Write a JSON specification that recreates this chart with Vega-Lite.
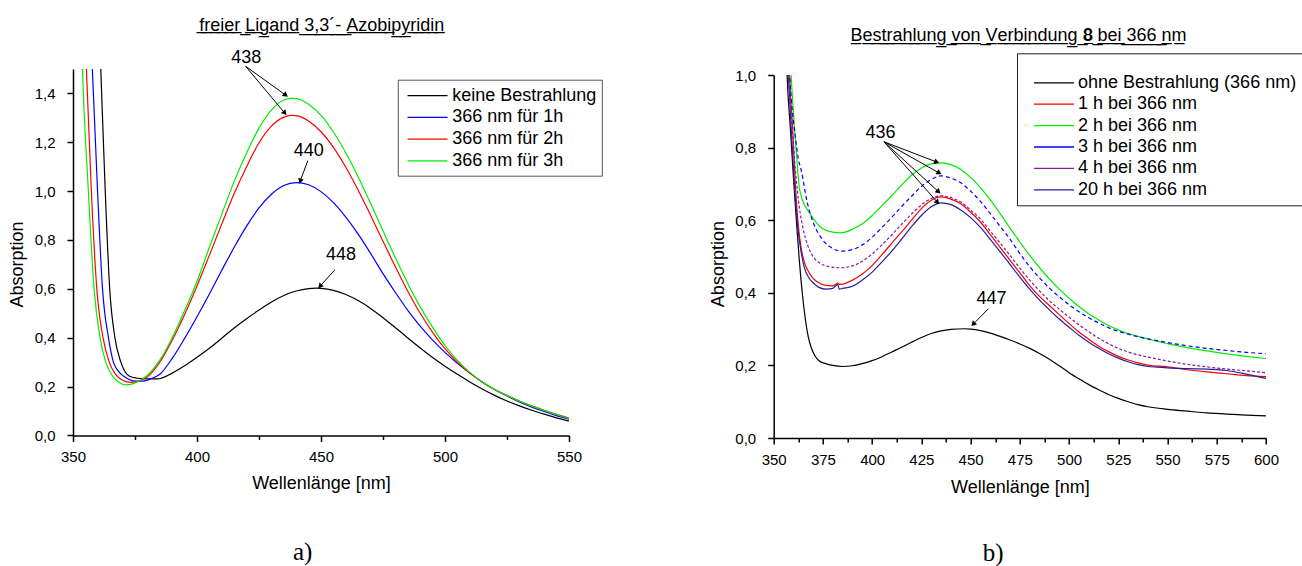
{
"$schema": "https://vega.github.io/schema/vega-lite/v6.json",
"background": "white",
"padding": {"left": 8, "top": 16, "right": 0, "bottom": 0},
"config": {
  "view": {"stroke": null},
  "font": "Liberation Sans",
  "axis": {"labelFont": "Liberation Sans", "labelFontSize": 15, "labelColor": "#000", "titleFont": "Liberation Sans", "titleFontSize": 18, "titleFontWeight": "normal", "titleColor": "#000", "domainColor": "#000", "tickColor": "#000", "domainWidth": 1.5, "tickWidth": 1.5, "grid": false, "labelFlush": false, "labelOverlap": false},
  "legend": {"labelFont": "Liberation Sans", "labelFontSize": 18, "labelColor": "#000", "labelLimit": 400, "fillColor": "white", "symbolType": "M-2,0H2", "symbolSize": 400, "symbolStrokeWidth": 1.3}
},
"datasets": {
  "left": [
    {"series":"keine Bestrahlung","wl":358,"A":2.4},{"series":"keine Bestrahlung","wl":361.2,"A":1.5},{"series":"keine Bestrahlung","wl":363,"A":1.0},{"series":"keine Bestrahlung","wl":364.8,"A":0.6},{"series":"keine Bestrahlung","wl":366.9,"A":0.4},{"series":"keine Bestrahlung","wl":369.3,"A":0.3},{"series":"keine Bestrahlung","wl":372.8,"A":0.242},{"series":"keine Bestrahlung","wl":376,"A":0.234},{"series":"keine Bestrahlung","wl":380,"A":0.231},{"series":"keine Bestrahlung","wl":384,"A":0.231},{"series":"keine Bestrahlung","wl":390,"A":0.255},{"series":"keine Bestrahlung","wl":395,"A":0.285},{"series":"keine Bestrahlung","wl":400,"A":0.32},{"series":"keine Bestrahlung","wl":405,"A":0.357},{"series":"keine Bestrahlung","wl":410,"A":0.398},{"series":"keine Bestrahlung","wl":415,"A":0.44},{"series":"keine Bestrahlung","wl":420,"A":0.478},{"series":"keine Bestrahlung","wl":425,"A":0.513},{"series":"keine Bestrahlung","wl":430,"A":0.546},{"series":"keine Bestrahlung","wl":435,"A":0.573},{"series":"keine Bestrahlung","wl":440,"A":0.591},{"series":"keine Bestrahlung","wl":445,"A":0.601},{"series":"keine Bestrahlung","wl":448,"A":0.603},{"series":"keine Bestrahlung","wl":450,"A":0.602},{"series":"keine Bestrahlung","wl":455,"A":0.594},{"series":"keine Bestrahlung","wl":460,"A":0.577},{"series":"keine Bestrahlung","wl":465,"A":0.552},{"series":"keine Bestrahlung","wl":470,"A":0.52},{"series":"keine Bestrahlung","wl":475,"A":0.482},{"series":"keine Bestrahlung","wl":480,"A":0.441},{"series":"keine Bestrahlung","wl":485,"A":0.399},{"series":"keine Bestrahlung","wl":490,"A":0.358},{"series":"keine Bestrahlung","wl":495,"A":0.319},{"series":"keine Bestrahlung","wl":500,"A":0.283},{"series":"keine Bestrahlung","wl":505,"A":0.25},{"series":"keine Bestrahlung","wl":510,"A":0.219},{"series":"keine Bestrahlung","wl":515,"A":0.19},{"series":"keine Bestrahlung","wl":520,"A":0.164},{"series":"keine Bestrahlung","wl":525,"A":0.141},{"series":"keine Bestrahlung","wl":530,"A":0.121},{"series":"keine Bestrahlung","wl":535,"A":0.103},{"series":"keine Bestrahlung","wl":540,"A":0.087},{"series":"keine Bestrahlung","wl":545,"A":0.072},{"series":"keine Bestrahlung","wl":550,"A":0.058},
    {"series":"366 nm für 1h","wl":355,"A":2.4},{"series":"366 nm für 1h","wl":357.8,"A":1.5},{"series":"366 nm für 1h","wl":359.9,"A":1.0},{"series":"366 nm für 1h","wl":361.9,"A":0.6},{"series":"366 nm für 1h","wl":364.3,"A":0.4},{"series":"366 nm für 1h","wl":366.3,"A":0.3},{"series":"366 nm für 1h","wl":369,"A":0.255},{"series":"366 nm für 1h","wl":372,"A":0.232},{"series":"366 nm für 1h","wl":375.3,"A":0.222},{"series":"366 nm für 1h","wl":378,"A":0.222},{"series":"366 nm für 1h","wl":381,"A":0.23},{"series":"366 nm für 1h","wl":385,"A":0.25},{"series":"366 nm für 1h","wl":390,"A":0.315},{"series":"366 nm für 1h","wl":395,"A":0.397},{"series":"366 nm für 1h","wl":400,"A":0.486},{"series":"366 nm für 1h","wl":405,"A":0.579},{"series":"366 nm für 1h","wl":410,"A":0.676},{"series":"366 nm für 1h","wl":415,"A":0.77},{"series":"366 nm für 1h","wl":420,"A":0.857},{"series":"366 nm für 1h","wl":425,"A":0.931},{"series":"366 nm für 1h","wl":430,"A":0.987},{"series":"366 nm für 1h","wl":435,"A":1.023},{"series":"366 nm für 1h","wl":440,"A":1.035},{"series":"366 nm für 1h","wl":445,"A":1.026},{"series":"366 nm für 1h","wl":450,"A":0.998},{"series":"366 nm für 1h","wl":455,"A":0.953},{"series":"366 nm für 1h","wl":460,"A":0.894},{"series":"366 nm für 1h","wl":465,"A":0.824},{"series":"366 nm für 1h","wl":470,"A":0.745},{"series":"366 nm für 1h","wl":475,"A":0.662},{"series":"366 nm für 1h","wl":480,"A":0.585},{"series":"366 nm für 1h","wl":485,"A":0.512},{"series":"366 nm für 1h","wl":490,"A":0.447},{"series":"366 nm für 1h","wl":495,"A":0.39},{"series":"366 nm für 1h","wl":500,"A":0.34},{"series":"366 nm für 1h","wl":505,"A":0.295},{"series":"366 nm für 1h","wl":510,"A":0.255},{"series":"366 nm für 1h","wl":515,"A":0.219},{"series":"366 nm für 1h","wl":520,"A":0.188},{"series":"366 nm für 1h","wl":525,"A":0.161},{"series":"366 nm für 1h","wl":530,"A":0.137},{"series":"366 nm für 1h","wl":535,"A":0.116},{"series":"366 nm für 1h","wl":540,"A":0.098},{"series":"366 nm für 1h","wl":545,"A":0.081},{"series":"366 nm für 1h","wl":550,"A":0.066},
    {"series":"366 nm für 2h","wl":353,"A":2.4},{"series":"366 nm für 2h","wl":355.4,"A":1.5},{"series":"366 nm für 2h","wl":357.4,"A":1.0},{"series":"366 nm für 2h","wl":359.6,"A":0.6},{"series":"366 nm für 2h","wl":362.1,"A":0.4},{"series":"366 nm für 2h","wl":364.6,"A":0.3},{"series":"366 nm für 2h","wl":367,"A":0.252},{"series":"366 nm für 2h","wl":370,"A":0.226},{"series":"366 nm für 2h","wl":373.3,"A":0.217},{"series":"366 nm für 2h","wl":376,"A":0.221},{"series":"366 nm für 2h","wl":380,"A":0.24},{"series":"366 nm für 2h","wl":385,"A":0.3},{"series":"366 nm für 2h","wl":390,"A":0.39},{"series":"366 nm für 2h","wl":395,"A":0.495},{"series":"366 nm für 2h","wl":400,"A":0.612},{"series":"366 nm für 2h","wl":405,"A":0.738},{"series":"366 nm für 2h","wl":410,"A":0.866},{"series":"366 nm für 2h","wl":415,"A":0.99},{"series":"366 nm für 2h","wl":420,"A":1.1},{"series":"366 nm für 2h","wl":425,"A":1.198},{"series":"366 nm für 2h","wl":430,"A":1.266},{"series":"366 nm für 2h","wl":435,"A":1.303},{"series":"366 nm für 2h","wl":438,"A":1.31},{"series":"366 nm für 2h","wl":440,"A":1.309},{"series":"366 nm für 2h","wl":445,"A":1.287},{"series":"366 nm für 2h","wl":450,"A":1.243},{"series":"366 nm für 2h","wl":455,"A":1.179},{"series":"366 nm für 2h","wl":460,"A":1.098},{"series":"366 nm für 2h","wl":465,"A":1.004},{"series":"366 nm für 2h","wl":470,"A":0.901},{"series":"366 nm für 2h","wl":475,"A":0.795},{"series":"366 nm für 2h","wl":480,"A":0.69},{"series":"366 nm für 2h","wl":485,"A":0.59},{"series":"366 nm für 2h","wl":490,"A":0.5},{"series":"366 nm für 2h","wl":495,"A":0.422},{"series":"366 nm für 2h","wl":500,"A":0.355},{"series":"366 nm für 2h","wl":505,"A":0.3},{"series":"366 nm für 2h","wl":510,"A":0.255},{"series":"366 nm für 2h","wl":515,"A":0.218},{"series":"366 nm für 2h","wl":520,"A":0.188},{"series":"366 nm für 2h","wl":525,"A":0.164},{"series":"366 nm für 2h","wl":530,"A":0.141},{"series":"366 nm für 2h","wl":535,"A":0.121},{"series":"366 nm für 2h","wl":540,"A":0.103},{"series":"366 nm für 2h","wl":545,"A":0.086},{"series":"366 nm für 2h","wl":550,"A":0.071},
    {"series":"366 nm für 3h","wl":351.5,"A":2.4},{"series":"366 nm für 3h","wl":353.8,"A":1.5},{"series":"366 nm für 3h","wl":356.2,"A":1.0},{"series":"366 nm für 3h","wl":358.5,"A":0.6},{"series":"366 nm für 3h","wl":360.9,"A":0.4},{"series":"366 nm für 3h","wl":363.2,"A":0.3},{"series":"366 nm für 3h","wl":366,"A":0.243},{"series":"366 nm für 3h","wl":368.5,"A":0.218},{"series":"366 nm für 3h","wl":371.3,"A":0.207},{"series":"366 nm für 3h","wl":374,"A":0.211},{"series":"366 nm für 3h","wl":377,"A":0.225},{"series":"366 nm für 3h","wl":380,"A":0.246},{"series":"366 nm für 3h","wl":385,"A":0.308},{"series":"366 nm für 3h","wl":390,"A":0.4},{"series":"366 nm für 3h","wl":395,"A":0.51},{"series":"366 nm für 3h","wl":400,"A":0.63},{"series":"366 nm für 3h","wl":405,"A":0.77},{"series":"366 nm für 3h","wl":410,"A":0.906},{"series":"366 nm für 3h","wl":415,"A":1.04},{"series":"366 nm für 3h","wl":420,"A":1.156},{"series":"366 nm für 3h","wl":425,"A":1.258},{"series":"366 nm für 3h","wl":430,"A":1.332},{"series":"366 nm für 3h","wl":435,"A":1.373},{"series":"366 nm für 3h","wl":438,"A":1.38},{"series":"366 nm für 3h","wl":440,"A":1.379},{"series":"366 nm für 3h","wl":445,"A":1.356},{"series":"366 nm für 3h","wl":450,"A":1.31},{"series":"366 nm für 3h","wl":455,"A":1.242},{"series":"366 nm für 3h","wl":460,"A":1.157},{"series":"366 nm für 3h","wl":465,"A":1.058},{"series":"366 nm für 3h","wl":470,"A":0.95},{"series":"366 nm für 3h","wl":475,"A":0.838},{"series":"366 nm für 3h","wl":480,"A":0.727},{"series":"366 nm für 3h","wl":485,"A":0.622},{"series":"366 nm für 3h","wl":490,"A":0.526},{"series":"366 nm für 3h","wl":495,"A":0.442},{"series":"366 nm für 3h","wl":500,"A":0.368},{"series":"366 nm für 3h","wl":505,"A":0.307},{"series":"366 nm für 3h","wl":510,"A":0.258},{"series":"366 nm für 3h","wl":515,"A":0.219},{"series":"366 nm für 3h","wl":520,"A":0.188},{"series":"366 nm für 3h","wl":525,"A":0.163},{"series":"366 nm für 3h","wl":530,"A":0.14},{"series":"366 nm für 3h","wl":535,"A":0.12},{"series":"366 nm für 3h","wl":540,"A":0.102},{"series":"366 nm für 3h","wl":545,"A":0.085},{"series":"366 nm für 3h","wl":550,"A":0.068}
  ],
  "annL": [{"label":"438","wl":419.9,"A":1.545},{"label":"440","wl":445.1,"A":1.163},{"label":"448","wl":458.1,"A":0.74}],
  "arrL": [{"wl":419.6,"A":1.511,"wl2":435.5,"A2":1.395,"angle":126},{"wl":419.6,"A":1.511,"wl2":435.2,"A2":1.322,"angle":140},{"wl":444.7,"A":1.125,"wl2":441.7,"A2":1.044,"angle":200},{"wl":455.6,"A":0.678,"wl2":449.8,"A2":0.613,"angle":222}],
  "right": [
    {"series":"ohne Bestrahlung (366 nm)","wl":355.5,"A":1.25},{"series":"ohne Bestrahlung (366 nm)","wl":356.8,"A":1.0},{"series":"ohne Bestrahlung (366 nm)","wl":358.5,"A":0.85},{"series":"ohne Bestrahlung (366 nm)","wl":360,"A":0.72},{"series":"ohne Bestrahlung (366 nm)","wl":361.5,"A":0.6},{"series":"ohne Bestrahlung (366 nm)","wl":363,"A":0.49},{"series":"ohne Bestrahlung (366 nm)","wl":364.5,"A":0.4},{"series":"ohne Bestrahlung (366 nm)","wl":366,"A":0.33},{"series":"ohne Bestrahlung (366 nm)","wl":367.5,"A":0.28},{"series":"ohne Bestrahlung (366 nm)","wl":369,"A":0.25},{"series":"ohne Bestrahlung (366 nm)","wl":371,"A":0.226},{"series":"ohne Bestrahlung (366 nm)","wl":373,"A":0.213},{"series":"ohne Bestrahlung (366 nm)","wl":376.4,"A":0.205},{"series":"ohne Bestrahlung (366 nm)","wl":380,"A":0.2},{"series":"ohne Bestrahlung (366 nm)","wl":385,"A":0.197},{"series":"ohne Bestrahlung (366 nm)","wl":390,"A":0.199},{"series":"ohne Bestrahlung (366 nm)","wl":395,"A":0.205},{"series":"ohne Bestrahlung (366 nm)","wl":400,"A":0.213},{"series":"ohne Bestrahlung (366 nm)","wl":405,"A":0.224},{"series":"ohne Bestrahlung (366 nm)","wl":410,"A":0.237},{"series":"ohne Bestrahlung (366 nm)","wl":415,"A":0.25},{"series":"ohne Bestrahlung (366 nm)","wl":420,"A":0.264},{"series":"ohne Bestrahlung (366 nm)","wl":425,"A":0.277},{"series":"ohne Bestrahlung (366 nm)","wl":430,"A":0.288},{"series":"ohne Bestrahlung (366 nm)","wl":435,"A":0.295},{"series":"ohne Bestrahlung (366 nm)","wl":440,"A":0.299},{"series":"ohne Bestrahlung (366 nm)","wl":447,"A":0.301},{"series":"ohne Bestrahlung (366 nm)","wl":450,"A":0.3},{"series":"ohne Bestrahlung (366 nm)","wl":455,"A":0.296},{"series":"ohne Bestrahlung (366 nm)","wl":460,"A":0.289},{"series":"ohne Bestrahlung (366 nm)","wl":465,"A":0.28},{"series":"ohne Bestrahlung (366 nm)","wl":470,"A":0.27},{"series":"ohne Bestrahlung (366 nm)","wl":475,"A":0.259},{"series":"ohne Bestrahlung (366 nm)","wl":480,"A":0.247},{"series":"ohne Bestrahlung (366 nm)","wl":485,"A":0.233},{"series":"ohne Bestrahlung (366 nm)","wl":490,"A":0.217},{"series":"ohne Bestrahlung (366 nm)","wl":495,"A":0.199},{"series":"ohne Bestrahlung (366 nm)","wl":500,"A":0.18},{"series":"ohne Bestrahlung (366 nm)","wl":505,"A":0.163},{"series":"ohne Bestrahlung (366 nm)","wl":510,"A":0.147},{"series":"ohne Bestrahlung (366 nm)","wl":515,"A":0.133},{"series":"ohne Bestrahlung (366 nm)","wl":520,"A":0.12},{"series":"ohne Bestrahlung (366 nm)","wl":525,"A":0.109},{"series":"ohne Bestrahlung (366 nm)","wl":530,"A":0.1},{"series":"ohne Bestrahlung (366 nm)","wl":535,"A":0.092},{"series":"ohne Bestrahlung (366 nm)","wl":540,"A":0.086},{"series":"ohne Bestrahlung (366 nm)","wl":550,"A":0.079},{"series":"ohne Bestrahlung (366 nm)","wl":560,"A":0.074},{"series":"ohne Bestrahlung (366 nm)","wl":570,"A":0.069},{"series":"ohne Bestrahlung (366 nm)","wl":580,"A":0.066},{"series":"ohne Bestrahlung (366 nm)","wl":590,"A":0.063},{"series":"ohne Bestrahlung (366 nm)","wl":600,"A":0.061},
    {"series":"1 h bei 366 nm","wl":356.5,"A":1.2},{"series":"1 h bei 366 nm","wl":358.5,"A":0.95},{"series":"1 h bei 366 nm","wl":359.6,"A":0.857},{"series":"1 h bei 366 nm","wl":361.3,"A":0.673},{"series":"1 h bei 366 nm","wl":362.6,"A":0.58},{"series":"1 h bei 366 nm","wl":363.9,"A":0.526},{"series":"1 h bei 366 nm","wl":365.5,"A":0.485},{"series":"1 h bei 366 nm","wl":367.3,"A":0.462},{"series":"1 h bei 366 nm","wl":370,"A":0.44},{"series":"1 h bei 366 nm","wl":372.3,"A":0.43},{"series":"1 h bei 366 nm","wl":376,"A":0.421},{"series":"1 h bei 366 nm","wl":380,"A":0.419},{"series":"1 h bei 366 nm","wl":382.5,"A":0.427},{"series":"1 h bei 366 nm","wl":383.5,"A":0.423},{"series":"1 h bei 366 nm","wl":385,"A":0.424},{"series":"1 h bei 366 nm","wl":390,"A":0.435},{"series":"1 h bei 366 nm","wl":395,"A":0.452},{"series":"1 h bei 366 nm","wl":400,"A":0.475},{"series":"1 h bei 366 nm","wl":405,"A":0.505},{"series":"1 h bei 366 nm","wl":410,"A":0.537},{"series":"1 h bei 366 nm","wl":415,"A":0.568},{"series":"1 h bei 366 nm","wl":420,"A":0.6},{"series":"1 h bei 366 nm","wl":425,"A":0.632},{"series":"1 h bei 366 nm","wl":430,"A":0.655},{"series":"1 h bei 366 nm","wl":435,"A":0.664},{"series":"1 h bei 366 nm","wl":440,"A":0.658},{"series":"1 h bei 366 nm","wl":445,"A":0.645},{"series":"1 h bei 366 nm","wl":450,"A":0.622},{"series":"1 h bei 366 nm","wl":455,"A":0.595},{"series":"1 h bei 366 nm","wl":460,"A":0.56},{"series":"1 h bei 366 nm","wl":465,"A":0.525},{"series":"1 h bei 366 nm","wl":470,"A":0.49},{"series":"1 h bei 366 nm","wl":475,"A":0.455},{"series":"1 h bei 366 nm","wl":480,"A":0.42},{"series":"1 h bei 366 nm","wl":485,"A":0.39},{"series":"1 h bei 366 nm","wl":490,"A":0.365},{"series":"1 h bei 366 nm","wl":495,"A":0.34},{"series":"1 h bei 366 nm","wl":500,"A":0.315},{"series":"1 h bei 366 nm","wl":505,"A":0.292},{"series":"1 h bei 366 nm","wl":510,"A":0.272},{"series":"1 h bei 366 nm","wl":515,"A":0.253},{"series":"1 h bei 366 nm","wl":520,"A":0.238},{"series":"1 h bei 366 nm","wl":525,"A":0.225},{"series":"1 h bei 366 nm","wl":530,"A":0.215},{"series":"1 h bei 366 nm","wl":535,"A":0.207},{"series":"1 h bei 366 nm","wl":540,"A":0.201},{"series":"1 h bei 366 nm","wl":550,"A":0.196},{"series":"1 h bei 366 nm","wl":560,"A":0.188},{"series":"1 h bei 366 nm","wl":570,"A":0.182},{"series":"1 h bei 366 nm","wl":580,"A":0.177},{"series":"1 h bei 366 nm","wl":590,"A":0.172},{"series":"1 h bei 366 nm","wl":600,"A":0.169},
    {"series":"2 h bei 366 nm","wl":356,"A":1.25},{"series":"2 h bei 366 nm","wl":358.8,"A":1.0},{"series":"2 h bei 366 nm","wl":360.5,"A":0.857},{"series":"2 h bei 366 nm","wl":362,"A":0.75},{"series":"2 h bei 366 nm","wl":363,"A":0.69},{"series":"2 h bei 366 nm","wl":365,"A":0.65},{"series":"2 h bei 366 nm","wl":367.3,"A":0.627},{"series":"2 h bei 366 nm","wl":370,"A":0.605},{"series":"2 h bei 366 nm","wl":374,"A":0.58},{"series":"2 h bei 366 nm","wl":380,"A":0.567},{"series":"2 h bei 366 nm","wl":384,"A":0.565},{"series":"2 h bei 366 nm","wl":390,"A":0.575},{"series":"2 h bei 366 nm","wl":395,"A":0.59},{"series":"2 h bei 366 nm","wl":400,"A":0.613},{"series":"2 h bei 366 nm","wl":405,"A":0.64},{"series":"2 h bei 366 nm","wl":410,"A":0.668},{"series":"2 h bei 366 nm","wl":415,"A":0.697},{"series":"2 h bei 366 nm","wl":420,"A":0.724},{"series":"2 h bei 366 nm","wl":425,"A":0.744},{"series":"2 h bei 366 nm","wl":430,"A":0.755},{"series":"2 h bei 366 nm","wl":435,"A":0.758},{"series":"2 h bei 366 nm","wl":440,"A":0.753},{"series":"2 h bei 366 nm","wl":445,"A":0.74},{"series":"2 h bei 366 nm","wl":450,"A":0.718},{"series":"2 h bei 366 nm","wl":455,"A":0.69},{"series":"2 h bei 366 nm","wl":460,"A":0.656},{"series":"2 h bei 366 nm","wl":465,"A":0.618},{"series":"2 h bei 366 nm","wl":470,"A":0.578},{"series":"2 h bei 366 nm","wl":475,"A":0.54},{"series":"2 h bei 366 nm","wl":480,"A":0.503},{"series":"2 h bei 366 nm","wl":485,"A":0.469},{"series":"2 h bei 366 nm","wl":490,"A":0.438},{"series":"2 h bei 366 nm","wl":495,"A":0.41},{"series":"2 h bei 366 nm","wl":500,"A":0.385},{"series":"2 h bei 366 nm","wl":505,"A":0.362},{"series":"2 h bei 366 nm","wl":510,"A":0.342},{"series":"2 h bei 366 nm","wl":515,"A":0.325},{"series":"2 h bei 366 nm","wl":520,"A":0.31},{"series":"2 h bei 366 nm","wl":525,"A":0.298},{"series":"2 h bei 366 nm","wl":530,"A":0.288},{"series":"2 h bei 366 nm","wl":535,"A":0.28},{"series":"2 h bei 366 nm","wl":540,"A":0.273},{"series":"2 h bei 366 nm","wl":545,"A":0.266},{"series":"2 h bei 366 nm","wl":550,"A":0.26},{"series":"2 h bei 366 nm","wl":560,"A":0.249},{"series":"2 h bei 366 nm","wl":570,"A":0.24},{"series":"2 h bei 366 nm","wl":580,"A":0.232},{"series":"2 h bei 366 nm","wl":590,"A":0.225},{"series":"2 h bei 366 nm","wl":600,"A":0.219},
    {"series":"3 h bei 366 nm","wl":355.5,"A":1.3},{"series":"3 h bei 366 nm","wl":357,"A":1.1},{"series":"3 h bei 366 nm","wl":359,"A":0.93},{"series":"3 h bei 366 nm","wl":361,"A":0.83},{"series":"3 h bei 366 nm","wl":362.5,"A":0.77},{"series":"3 h bei 366 nm","wl":364,"A":0.737},{"series":"3 h bei 366 nm","wl":367,"A":0.65},{"series":"3 h bei 366 nm","wl":370,"A":0.595},{"series":"3 h bei 366 nm","wl":375,"A":0.545},{"series":"3 h bei 366 nm","wl":380,"A":0.522},{"series":"3 h bei 366 nm","wl":384,"A":0.515},{"series":"3 h bei 366 nm","wl":390,"A":0.519},{"series":"3 h bei 366 nm","wl":395,"A":0.532},{"series":"3 h bei 366 nm","wl":400,"A":0.553},{"series":"3 h bei 366 nm","wl":405,"A":0.58},{"series":"3 h bei 366 nm","wl":410,"A":0.608},{"series":"3 h bei 366 nm","wl":415,"A":0.638},{"series":"3 h bei 366 nm","wl":420,"A":0.666},{"series":"3 h bei 366 nm","wl":425,"A":0.693},{"series":"3 h bei 366 nm","wl":430,"A":0.712},{"series":"3 h bei 366 nm","wl":435,"A":0.722},{"series":"3 h bei 366 nm","wl":440,"A":0.716},{"series":"3 h bei 366 nm","wl":445,"A":0.703},{"series":"3 h bei 366 nm","wl":450,"A":0.68},{"series":"3 h bei 366 nm","wl":455,"A":0.652},{"series":"3 h bei 366 nm","wl":460,"A":0.618},{"series":"3 h bei 366 nm","wl":465,"A":0.583},{"series":"3 h bei 366 nm","wl":470,"A":0.548},{"series":"3 h bei 366 nm","wl":475,"A":0.508},{"series":"3 h bei 366 nm","wl":480,"A":0.472},{"series":"3 h bei 366 nm","wl":485,"A":0.441},{"series":"3 h bei 366 nm","wl":490,"A":0.413},{"series":"3 h bei 366 nm","wl":495,"A":0.389},{"series":"3 h bei 366 nm","wl":500,"A":0.367},{"series":"3 h bei 366 nm","wl":505,"A":0.348},{"series":"3 h bei 366 nm","wl":510,"A":0.331},{"series":"3 h bei 366 nm","wl":515,"A":0.317},{"series":"3 h bei 366 nm","wl":520,"A":0.304},{"series":"3 h bei 366 nm","wl":525,"A":0.294},{"series":"3 h bei 366 nm","wl":530,"A":0.286},{"series":"3 h bei 366 nm","wl":535,"A":0.279},{"series":"3 h bei 366 nm","wl":540,"A":0.273},{"series":"3 h bei 366 nm","wl":550,"A":0.263},{"series":"3 h bei 366 nm","wl":560,"A":0.254},{"series":"3 h bei 366 nm","wl":570,"A":0.247},{"series":"3 h bei 366 nm","wl":580,"A":0.241},{"series":"3 h bei 366 nm","wl":590,"A":0.236},{"series":"3 h bei 366 nm","wl":600,"A":0.232},
    {"series":"4 h bei 366 nm","wl":355.5,"A":1.3},{"series":"4 h bei 366 nm","wl":357,"A":1.05},{"series":"4 h bei 366 nm","wl":359,"A":0.88},{"series":"4 h bei 366 nm","wl":361,"A":0.74},{"series":"4 h bei 366 nm","wl":363,"A":0.636},{"series":"4 h bei 366 nm","wl":365,"A":0.575},{"series":"4 h bei 366 nm","wl":367.3,"A":0.53},{"series":"4 h bei 366 nm","wl":370,"A":0.5},{"series":"4 h bei 366 nm","wl":374,"A":0.48},{"series":"4 h bei 366 nm","wl":378,"A":0.472},{"series":"4 h bei 366 nm","wl":384,"A":0.469},{"series":"4 h bei 366 nm","wl":390,"A":0.474},{"series":"4 h bei 366 nm","wl":395,"A":0.487},{"series":"4 h bei 366 nm","wl":400,"A":0.507},{"series":"4 h bei 366 nm","wl":405,"A":0.532},{"series":"4 h bei 366 nm","wl":410,"A":0.56},{"series":"4 h bei 366 nm","wl":415,"A":0.589},{"series":"4 h bei 366 nm","wl":420,"A":0.617},{"series":"4 h bei 366 nm","wl":425,"A":0.642},{"series":"4 h bei 366 nm","wl":430,"A":0.66},{"series":"4 h bei 366 nm","wl":435,"A":0.667},{"series":"4 h bei 366 nm","wl":440,"A":0.662},{"series":"4 h bei 366 nm","wl":445,"A":0.65},{"series":"4 h bei 366 nm","wl":450,"A":0.628},{"series":"4 h bei 366 nm","wl":455,"A":0.603},{"series":"4 h bei 366 nm","wl":460,"A":0.57},{"series":"4 h bei 366 nm","wl":465,"A":0.537},{"series":"4 h bei 366 nm","wl":470,"A":0.503},{"series":"4 h bei 366 nm","wl":475,"A":0.468},{"series":"4 h bei 366 nm","wl":480,"A":0.435},{"series":"4 h bei 366 nm","wl":485,"A":0.405},{"series":"4 h bei 366 nm","wl":490,"A":0.378},{"series":"4 h bei 366 nm","wl":495,"A":0.355},{"series":"4 h bei 366 nm","wl":500,"A":0.333},{"series":"4 h bei 366 nm","wl":505,"A":0.312},{"series":"4 h bei 366 nm","wl":510,"A":0.293},{"series":"4 h bei 366 nm","wl":515,"A":0.275},{"series":"4 h bei 366 nm","wl":520,"A":0.26},{"series":"4 h bei 366 nm","wl":525,"A":0.247},{"series":"4 h bei 366 nm","wl":530,"A":0.237},{"series":"4 h bei 366 nm","wl":535,"A":0.229},{"series":"4 h bei 366 nm","wl":540,"A":0.223},{"series":"4 h bei 366 nm","wl":550,"A":0.212},{"series":"4 h bei 366 nm","wl":560,"A":0.203},{"series":"4 h bei 366 nm","wl":570,"A":0.196},{"series":"4 h bei 366 nm","wl":580,"A":0.19},{"series":"4 h bei 366 nm","wl":590,"A":0.185},{"series":"4 h bei 366 nm","wl":600,"A":0.18},
    {"series":"20 h bei 366 nm","wl":356,"A":1.2},{"series":"20 h bei 366 nm","wl":357.5,"A":1.0},{"series":"20 h bei 366 nm","wl":359,"A":0.84},{"series":"20 h bei 366 nm","wl":360.5,"A":0.7},{"series":"20 h bei 366 nm","wl":362.2,"A":0.581},{"series":"20 h bei 366 nm","wl":364,"A":0.51},{"series":"20 h bei 366 nm","wl":365.5,"A":0.471},{"series":"20 h bei 366 nm","wl":368,"A":0.44},{"series":"20 h bei 366 nm","wl":370.6,"A":0.425},{"series":"20 h bei 366 nm","wl":373,"A":0.415},{"series":"20 h bei 366 nm","wl":376.5,"A":0.41},{"series":"20 h bei 366 nm","wl":380,"A":0.412},{"series":"20 h bei 366 nm","wl":382.5,"A":0.423},{"series":"20 h bei 366 nm","wl":383.3,"A":0.41},{"series":"20 h bei 366 nm","wl":385,"A":0.412},{"series":"20 h bei 366 nm","wl":390,"A":0.418},{"series":"20 h bei 366 nm","wl":395,"A":0.435},{"series":"20 h bei 366 nm","wl":400,"A":0.457},{"series":"20 h bei 366 nm","wl":405,"A":0.485},{"series":"20 h bei 366 nm","wl":410,"A":0.515},{"series":"20 h bei 366 nm","wl":415,"A":0.548},{"series":"20 h bei 366 nm","wl":420,"A":0.582},{"series":"20 h bei 366 nm","wl":425,"A":0.613},{"series":"20 h bei 366 nm","wl":430,"A":0.637},{"series":"20 h bei 366 nm","wl":435,"A":0.648},{"series":"20 h bei 366 nm","wl":440,"A":0.643},{"series":"20 h bei 366 nm","wl":445,"A":0.628},{"series":"20 h bei 366 nm","wl":450,"A":0.607},{"series":"20 h bei 366 nm","wl":455,"A":0.58},{"series":"20 h bei 366 nm","wl":460,"A":0.547},{"series":"20 h bei 366 nm","wl":465,"A":0.513},{"series":"20 h bei 366 nm","wl":470,"A":0.478},{"series":"20 h bei 366 nm","wl":475,"A":0.443},{"series":"20 h bei 366 nm","wl":480,"A":0.41},{"series":"20 h bei 366 nm","wl":485,"A":0.38},{"series":"20 h bei 366 nm","wl":490,"A":0.353},{"series":"20 h bei 366 nm","wl":495,"A":0.328},{"series":"20 h bei 366 nm","wl":500,"A":0.305},{"series":"20 h bei 366 nm","wl":505,"A":0.283},{"series":"20 h bei 366 nm","wl":510,"A":0.264},{"series":"20 h bei 366 nm","wl":515,"A":0.247},{"series":"20 h bei 366 nm","wl":520,"A":0.232},{"series":"20 h bei 366 nm","wl":525,"A":0.22},{"series":"20 h bei 366 nm","wl":530,"A":0.21},{"series":"20 h bei 366 nm","wl":535,"A":0.202},{"series":"20 h bei 366 nm","wl":540,"A":0.197},{"series":"20 h bei 366 nm","wl":545,"A":0.195},{"series":"20 h bei 366 nm","wl":550,"A":0.193},{"series":"20 h bei 366 nm","wl":560,"A":0.191},{"series":"20 h bei 366 nm","wl":570,"A":0.19},{"series":"20 h bei 366 nm","wl":580,"A":0.186},{"series":"20 h bei 366 nm","wl":590,"A":0.176},{"series":"20 h bei 366 nm","wl":600,"A":0.164}
  ],
  "annR": [{"label":"436","wl":404.2,"A":0.84},{"label":"447","wl":460.6,"A":0.382}],
  "arrR": [{"wl":406.0,"A":0.816,"wl2":432.4,"A2":0.761,"angle":111},{"wl":406.0,"A":0.816,"wl2":433.7,"A2":0.731,"angle":120},{"wl":406.0,"A":0.816,"wl2":433.4,"A2":0.68,"angle":132},{"wl":406.0,"A":0.816,"wl2":432.9,"A2":0.651,"angle":138},{"wl":459.0,"A":0.356,"wl2":451.6,"A2":0.315,"angle":224}]
},
"spacing": 204.7,
"bounds": "flush",
"resolve": {"scale": {"color": "independent", "x": "independent", "y": "independent"}, "legend": {"color": "independent"}},
"hconcat": [
  {
    "width": 496, "height": 366.4,
    "title": {"text": "a)", "orient": "bottom", "anchor": "middle", "baseline": "middle", "offset": 60, "dx": -18.4, "font": "Liberation Serif", "fontSize": 25, "fontWeight": "normal", "color": "#000"},
    "layer": [
      {
        "data": {"name": "left"},
        "mark": {"type": "line", "clip": true, "strokeWidth": 1.2, "interpolate": "monotone"},
        "encoding": {
          "x": {"field": "wl", "type": "quantitative", "scale": {"domain": [350, 550], "nice": false, "zero": false},
                "axis": {"orient": "bottom", "title": "Wellenlänge [nm]", "values": [350,375,400,425,450,475,500,525,550], "labelExpr": "datum.value % 50 === 0 ? datum.label : ''", "tickSize": {"condition": {"test": "datum.value % 50 === 0", "value": 6}, "value": 4}, "labelPadding": 8, "titleY": 47.6, "titleBaseline": "middle"}},
          "y": {"field": "A", "type": "quantitative", "scale": {"domain": [0, 1.5], "nice": false},
                "axis": {"title": "Absorption", "values": [0,0.1,0.2,0.3,0.4,0.5,0.6,0.7,0.8,0.9,1,1.1,1.2,1.3,1.4,1.5], "labelExpr": "abs(datum.value*5 - round(datum.value*5)) < 0.01 ? replace(format(datum.value, '.1f'), '.', ',') : ''", "tickSize": {"condition": {"test": "abs(datum.value*5 - round(datum.value*5)) < 0.01", "value": 6}, "value": 4}, "labelPadding": 12, "titleX": -55.2, "titleY": 195, "titleBaseline": "middle", "titleAlign": "center"}},
          "color": {"field": "series", "type": "nominal",
                    "scale": {"domain": ["keine Bestrahlung", "366 nm für 1h", "366 nm für 2h", "366 nm für 3h"], "range": ["#000000", "#0000ff", "#ff0000", "#00ee00"]},
                    "legend": {"title": null, "orient": "none", "legendX": 324.8, "legendY": 10.7, "padding": 5, "rowPadding": 1.7, "strokeColor": "#555", "symbolOffset": 13.7, "labelOffset": 13.7, "labelExpr": "datum.label + '\u00a0\u00a0'"}}
        }
      },
      {
        "data": {"name": "annL"},
        "mark": {"type": "text", "font": "Liberation Sans", "fontSize": 18, "align": "center", "baseline": "middle", "color": "#000"},
        "encoding": {
          "x": {"field": "wl", "type": "quantitative", "scale": {"domain": [350, 550], "nice": false, "zero": false},
                "axis": {"orient": "top", "title": "f̲r̲e̲i̲e̲r̲ ̲L̲i̲g̲a̲n̲d̲ ̲3̲,̲3̲´̲-̲ ̲A̲z̲o̲b̲i̲p̲y̲r̲i̲d̲i̲n̲", "labels": false, "ticks": false, "domain": false, "titleX": 248.3, "titleY": -44, "titleBaseline": "middle", "titleAlign": "center"}},
          "y": {"field": "A", "type": "quantitative"},
          "text": {"field": "label"}
        }
      },
      {
        "data": {"name": "arrL"},
        "mark": {"type": "rule", "color": "#000", "strokeWidth": 1},
        "encoding": {
          "x": {"field": "wl", "type": "quantitative", "axis": null},
          "y": {"field": "A", "type": "quantitative"},
          "x2": {"field": "wl2"},
          "y2": {"field": "A2"}
        }
      },
      {
        "data": {"name": "arrL"},
        "mark": {"type": "point", "shape": "triangle", "filled": true, "color": "#000", "size": 35, "opacity": 1},
        "encoding": {
          "x": {"field": "wl2", "type": "quantitative", "axis": null},
          "y": {"field": "A2", "type": "quantitative"},
          "angle": {"field": "angle", "type": "quantitative", "scale": null}
        }
      }
    ],
    "resolve": {"axis": {"x": "independent"}}
  },
  {
    "spacing": 0,
    "bounds": "flush",
    "resolve": {"scale": {"color": "independent"}, "legend": {"color": "independent"}},
    "vconcat": [
      {"width": 492.3, "height": 5.4, "data": {"values": [{"z": 1}]}, "mark": {"type": "point", "opacity": 0}},
      {
        "width": 492.3, "height": 363,
        "title": {"text": "b)", "orient": "bottom", "anchor": "middle", "baseline": "middle", "offset": 57, "dx": -26.6, "font": "Liberation Serif", "fontSize": 25, "fontWeight": "normal", "color": "#000"},
        "layer": [
          {
            "data": {"name": "right"},
            "transform": [{"filter": {"not": {"field": "series", "oneOf": ["3 h bei 366 nm", "4 h bei 366 nm"]}}}],
            "mark": {"type": "line", "clip": true, "strokeWidth": 1.2, "interpolate": "monotone"},
            "encoding": {
              "x": {"field": "wl", "type": "quantitative", "scale": {"domain": [350, 600], "nice": false, "zero": false},
                    "axis": {"orient": "bottom", "title": "Wellenlänge [nm]", "values": [350,362.5,375,387.5,400,412.5,425,437.5,450,462.5,475,487.5,500,512.5,525,537.5,550,562.5,575,587.5,600], "labelExpr": "datum.value % 25 === 0 ? datum.label : ''", "tickSize": {"condition": {"test": "datum.value % 25 === 0", "value": 6}, "value": 4}, "labelPadding": 8, "titleY": 49, "titleBaseline": "middle"}},
              "y": {"field": "A", "type": "quantitative", "scale": {"domain": [0, 1], "nice": false},
                    "axis": {"title": "Absorption", "values": [0,0.1,0.2,0.3,0.4,0.5,0.6,0.7,0.8,0.9,1], "labelExpr": "abs(datum.value*5 - round(datum.value*5)) < 0.01 ? replace(format(datum.value, '.1f'), '.', ',') : ''", "tickSize": {"condition": {"test": "abs(datum.value*5 - round(datum.value*5)) < 0.01", "value": 6}, "value": 4}, "labelPadding": 12, "titleX": -55, "titleY": 188.6, "titleBaseline": "middle", "titleAlign": "center"}},
              "color": {"field": "series", "type": "nominal",
                        "scale": {"domain": ["ohne Bestrahlung (366 nm)", "1 h bei 366 nm", "2 h bei 366 nm", "3 h bei 366 nm", "4 h bei 366 nm", "20 h bei 366 nm"], "range": ["#000000", "#ff0000", "#00ee00", "#0000ff", "#8a1a9a", "#2020a0"]},
                        "legend": {"title": " ", "titleFontSize": 8, "titlePadding": 4.5, "orient": "none", "legendX": 243.3, "legendY": -21.7, "padding": 6, "rowPadding": 1.4, "strokeColor": "#222", "symbolOffset": 20, "labelOffset": 13}}
            }
          },
          {
            "data": {"name": "right"},
            "transform": [{"filter": {"field": "series", "equal": "3 h bei 366 nm"}}],
            "mark": {"type": "line", "clip": true, "strokeWidth": 1.2, "interpolate": "monotone", "strokeDash": [4, 3]},
            "encoding": {
              "x": {"field": "wl", "type": "quantitative", "axis": null},
              "y": {"field": "A", "type": "quantitative"},
              "color": {"field": "series", "type": "nominal"}
            }
          },
          {
            "data": {"name": "right"},
            "transform": [{"filter": {"field": "series", "equal": "4 h bei 366 nm"}}],
            "mark": {"type": "line", "clip": true, "strokeWidth": 1.2, "interpolate": "monotone", "strokeDash": [3, 2]},
            "encoding": {
              "x": {"field": "wl", "type": "quantitative", "axis": null},
              "y": {"field": "A", "type": "quantitative"},
              "color": {"field": "series", "type": "nominal"}
            }
          },
          {
            "data": {"name": "annR"},
            "mark": {"type": "text", "font": "Liberation Sans", "fontSize": 18, "align": "center", "baseline": "middle", "color": "#000"},
            "encoding": {
              "x": {"field": "wl", "type": "quantitative", "scale": {"domain": [350, 600], "nice": false, "zero": false},
                    "axis": {"orient": "top", "title": "B̲e̲s̲t̲r̲a̲h̲l̲u̲n̲g̲ ̲v̲o̲n̲ ̲V̲e̲r̲b̲i̲n̲d̲u̲n̲g̲ ̲𝟖̲ ̲b̲e̲i̲ ̲3̲6̲6̲ ̲n̲m̲", "labels": false, "ticks": false, "domain": false, "titleX": 244.3, "titleY": -39.7, "titleBaseline": "middle", "titleAlign": "center"}},
              "y": {"field": "A", "type": "quantitative"},
              "text": {"field": "label"}
            }
          },
          {
            "data": {"name": "arrR"},
            "mark": {"type": "rule", "color": "#000", "strokeWidth": 1},
            "encoding": {
              "x": {"field": "wl", "type": "quantitative", "axis": null},
              "y": {"field": "A", "type": "quantitative"},
              "x2": {"field": "wl2"},
              "y2": {"field": "A2"}
            }
          },
          {
            "data": {"name": "arrR"},
            "mark": {"type": "point", "shape": "triangle", "filled": true, "color": "#000", "size": 35, "opacity": 1},
            "encoding": {
              "x": {"field": "wl2", "type": "quantitative", "axis": null},
              "y": {"field": "A2", "type": "quantitative"},
              "angle": {"field": "angle", "type": "quantitative", "scale": null}
            }
          }
        ],
        "resolve": {"axis": {"x": "independent"}}
      }
    ]
  }
]
}
